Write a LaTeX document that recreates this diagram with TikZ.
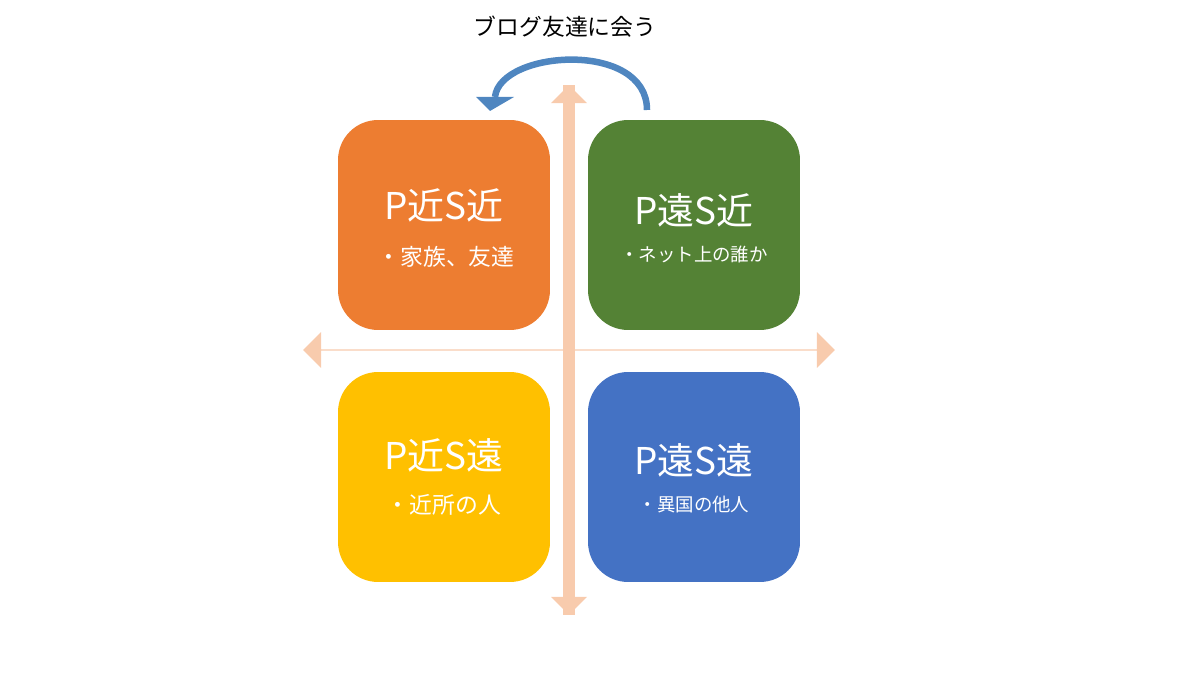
\documentclass[tikz,border=0pt]{standalone}
\usepackage{fontspec}
\setmainfont{Noto Sans CJK JP}
\usetikzlibrary{shapes.arrows}
\definecolor{qorange}{HTML}{ED7D31}
\definecolor{qgreen}{HTML}{548235}
\definecolor{qyellow}{HTML}{FFC000}
\definecolor{qblue}{HTML}{4472C4}
\definecolor{qpink}{HTML}{F8CBAD}
\definecolor{qarc}{HTML}{4F86C0}
\begin{document}
\begin{tikzpicture}[x=0.02cm,y=-0.02cm,
  box/.style={rounded corners=8mm,minimum width=4.24cm,minimum height=4.2cm},
  big/.style={text=white,font=\fontsize{21}{24}\selectfont},
  small/.style={text=white,font=\fontsize{13}{15}\selectfont},
  tiny/.style={text=white,font=\fontsize{10.5}{13}\selectfont},
  axis/.style={double arrow,fill=qpink,minimum width=0.72cm,
    double arrow head extend=0.24cm,inner sep=0pt,double arrow head indent=0pt}]
\useasboundingbox (0,0) rectangle (1200,675);
% axes
\node[axis,minimum height=10.64cm] (hx) at (569,350) {};
\node[axis,minimum height=10.6cm,rotate=90] (vx) at (569,350) {};
\fill[qpink] (563,85) -- (563,615) -- (575,615) -- (575,85) -- cycle;
% quadrants
\node[box,fill=qorange] (nn) at (444,225) {};
\node[box,fill=qgreen] (fn) at (694,225) {};
\node[box,fill=qyellow] (nf) at (444,477) {};
\node[box,fill=qblue] (ff) at (694,477) {};
\node[big] (nnt) at (444,205) {P近S近};
\node[small] (nns) at (446,257) {・家族、友達};
\node[big] (fnt) at (694,210) {P遠S近};
\node[tiny] (fns) at (694,255) {・ネット上の誰か};
\node[big] (nft) at (444,455) {P近S遠};
\node[small] (nfs) at (444,505) {・近所の人};
\node[big] (fft) at (694,460) {P遠S遠};
\node[tiny] (ffs) at (694,505) {・異国の他人};
% meeting
\node[font=\fontsize{13}{15}\selectfont] (meet) at (565,27) {ブログ友達に会う};
\coordinate (from) at (647,110);
\coordinate (to) at (495,97);
\draw[qarc,line width=1.3mm] (from) .. controls (647,40) and (500,50) .. (to);
\fill[qarc] (476,97) -- (514,97) -- (490,111) -- cycle;
\end{tikzpicture}
\end{document}
